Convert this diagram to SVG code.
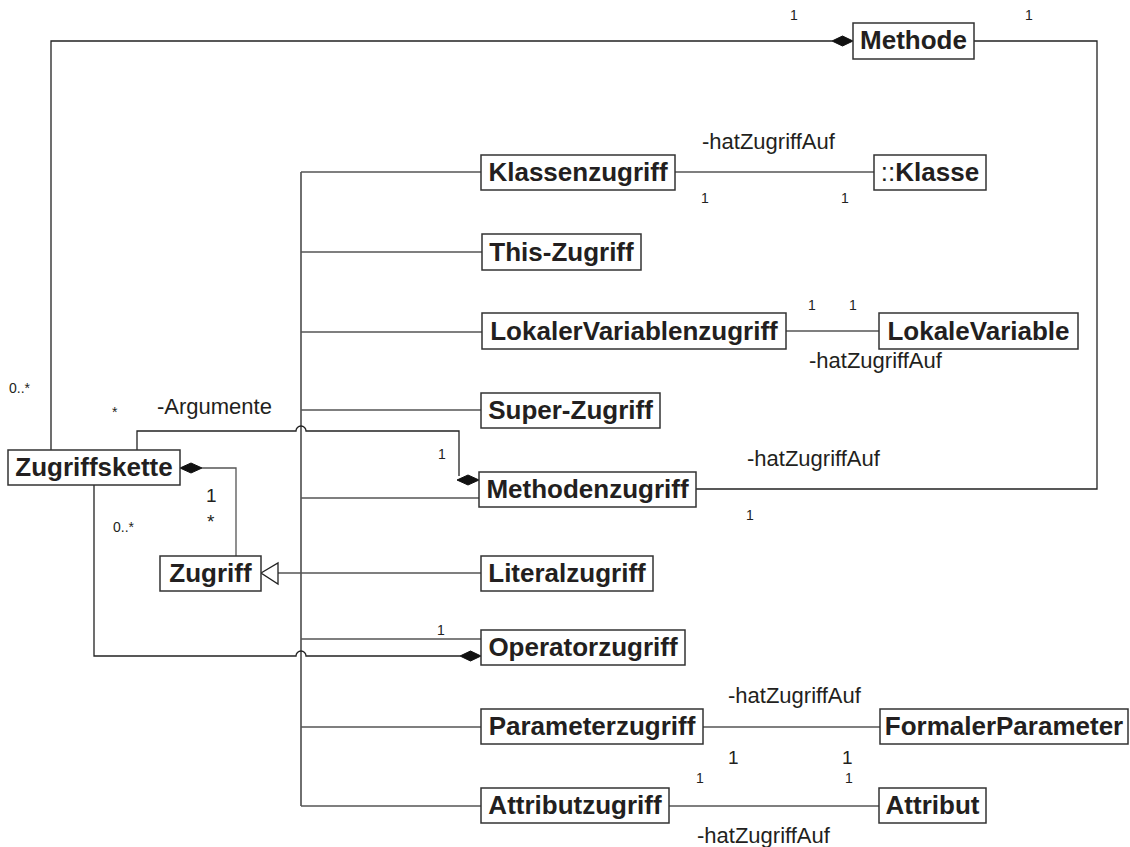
<svg xmlns="http://www.w3.org/2000/svg" width="1130" height="847" viewBox="0 0 1130 847">
<style>
.box{fill:#fff;stroke:#333;stroke-width:1.5}
.nt{font-family:"Liberation Sans",Arial,sans-serif;font-weight:bold;font-size:26px;fill:#231f20;text-anchor:middle}
.lb{font-family:"Liberation Sans",Arial,sans-serif;font-size:22px;fill:#231f20}
.sm{font-family:"Liberation Sans",Arial,sans-serif;font-size:14px;fill:#231f20}
.md{font-family:"Liberation Sans",Arial,sans-serif;font-size:19px;fill:#231f20}
.ln{fill:none;stroke:#555;stroke-width:1.3}
.dk{fill:none;stroke:#222;stroke-width:1.3}
.dia{fill:#111;stroke:#111;stroke-width:1}
.tri{fill:#fff;stroke:#222;stroke-width:1.3}
</style>
<g id="connectors">
<path class="dk" d="M301 172 V806"/>
<path class="ln" d="M301 172 H481 M301 252 H482 M301 332 H482 M301 410 H481 M301 498 H479 M301 639 H481 M301 727 H481 M301 806 H481"/>
<path class="ln" d="M278 573 H481"/>
<polygon class="tri" points="261,573 278,563 278,584"/>
<path class="dk" d="M51 450 V41 H832"/>
<polygon class="dia" points="853,41 842.5,36 832,41 842.5,46"/>
<path class="dk" d="M974 41 H1097 V489 H696"/>
<path class="ln" d="M675 172 H874"/>
<path class="ln" d="M786 331 H879"/>
<path class="ln" d="M703 727 H880"/>
<path class="ln" d="M669 806 H879"/>
<path class="dk" d="M137 450 V431 H296 A5 5 0 0 1 306 431 H459 V476"/>
<polygon class="dia" points="479,480 468,475 457,480 468,485"/>
<path class="dk" d="M94 485 V656 H296 A5 5 0 0 1 306 656 H460"/>
<polygon class="dia" points="481,656 470.5,651 460,656 470.5,661"/>
<path class="ln" d="M202 468 H236 V556"/>
<polygon class="dia" points="180,468 191,463 202,468 191,473"/>
</g>
<g id="n-methode"><rect class="box" x="853" y="23" width="121" height="36"/><text class="nt" x="913.5" y="49">Methode</text></g>
<g id="n-klassenzugriff"><rect class="box" x="481" y="155" width="194" height="35"/><text class="nt" x="578" y="181">Klassenzugriff</text></g>
<g id="n-klasse"><rect class="box" x="874" y="155" width="112" height="35"/><text class="nt" x="930" y="181"><tspan font-weight="normal">::</tspan>Klasse</text></g>
<g id="n-this"><rect class="box" x="482" y="234" width="159" height="36"/><text class="nt" x="561.5" y="261">This-Zugriff</text></g>
<g id="n-lokalervariablenzugriff"><rect class="box" x="482" y="313" width="304" height="36"/><text class="nt" x="634" y="340">LokalerVariablenzugriff</text></g>
<g id="n-lokalevariable"><rect class="box" x="879" y="313" width="199" height="36"/><text class="nt" x="978.5" y="340">LokaleVariable</text></g>
<g id="n-super"><rect class="box" x="481" y="393" width="179" height="35"/><text class="nt" x="570.5" y="419">Super-Zugriff</text></g>
<g id="n-methodenzugriff"><rect class="box" x="479" y="472" width="217" height="35"/><text class="nt" x="587.5" y="498">Methodenzugriff</text></g>
<g id="n-literalzugriff"><rect class="box" x="481" y="556" width="172" height="35"/><text class="nt" x="567" y="582">Literalzugriff</text></g>
<g id="n-operatorzugriff"><rect class="box" x="481" y="630" width="204" height="35"/><text class="nt" x="583" y="656">Operatorzugriff</text></g>
<g id="n-parameterzugriff"><rect class="box" x="481" y="709" width="222" height="35"/><text class="nt" x="592" y="735">Parameterzugriff</text></g>
<g id="n-formalerparameter"><rect class="box" x="880" y="709" width="248" height="35"/><text class="nt" x="1004" y="735">FormalerParameter</text></g>
<g id="n-attributzugriff"><rect class="box" x="481" y="788" width="188" height="35"/><text class="nt" x="575" y="814">Attributzugriff</text></g>
<g id="n-attribut"><rect class="box" x="879" y="788" width="107" height="35"/><text class="nt" x="932.5" y="814">Attribut</text></g>
<g id="n-zugriffskette"><rect class="box" x="8" y="450" width="172" height="35"/><text class="nt" x="94" y="476">Zugriffskette</text></g>
<g id="n-zugriff"><rect class="box" x="160" y="556" width="101" height="35"/><text class="nt" x="210.5" y="582">Zugriff</text></g>
<g id="labels">
<text class="sm" x="790" y="20">1</text>
<text class="sm" x="1025" y="20">1</text>
<text class="lb" x="702" y="149">-hatZugriffAuf</text>
<text class="sm" x="701" y="203">1</text>
<text class="sm" x="841" y="203">1</text>
<text class="sm" x="808" y="310">1</text>
<text class="sm" x="849" y="310">1</text>
<text class="lb" x="809" y="368">-hatZugriffAuf</text>
<text class="sm" x="9" y="393">0..*</text>
<text class="sm" x="112" y="417">*</text>
<text class="lb" x="157" y="414">-Argumente</text>
<text class="sm" x="438" y="459">1</text>
<text class="lb" x="747" y="466">-hatZugriffAuf</text>
<text class="sm" x="746" y="520">1</text>
<text class="md" x="206" y="502">1</text>
<text class="md" x="207" y="528">*</text>
<text class="sm" x="113" y="532">0..*</text>
<text class="sm" x="437" y="635">1</text>
<text class="lb" x="728" y="703">-hatZugriffAuf</text>
<text class="md" x="728" y="764">1</text>
<text class="md" x="842" y="764">1</text>
<text class="sm" x="696" y="783">1</text>
<text class="sm" x="845" y="783">1</text>
<text class="lb" x="697" y="843">-hatZugriffAuf</text>
</g>
</svg>
